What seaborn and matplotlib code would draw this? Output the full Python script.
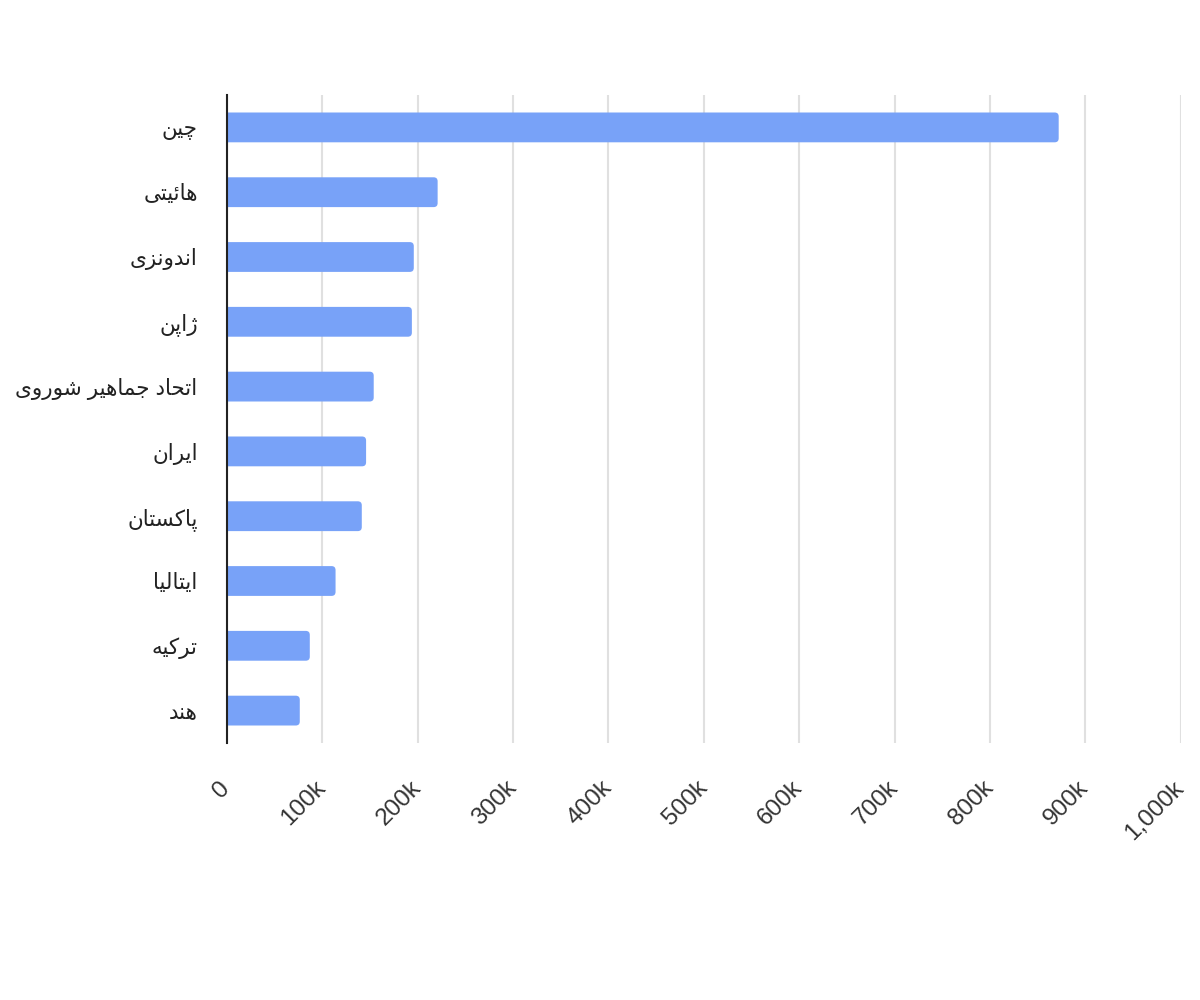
import seaborn as sns
import matplotlib.pyplot as plt
import matplotlib.ticker as mticker
from matplotlib.patches import FancyBboxPatch
import pandas as pd

# country names (Persian) and values, top to bottom
countries = ["چین", "هائیتی", "اندونزی", "ژاپن", "اتحاد جماهیر شوروی",
             "ایران", "پاکستان", "ایتالیا", "ترکیه", "هند"]
values = [872000, 221000, 196000, 194000, 154000,
          146000, 141500, 114000, 87000, 76500]
x_ticks = [0, 100000, 200000, 300000, 400000, 500000,
           600000, 700000, 800000, 900000, 1000000]

# matplotlib has no Arabic shaping, so map letters to presentation forms
# (isolated, final, initial, medial); two-form letters only join to the right
FORMS = {
    "ا": ("\uFE8D", "\uFE8E"),
    "د": ("\uFEA9", "\uFEAA"),
    "ر": ("\uFEAD", "\uFEAE"),
    "ز": ("\uFEAF", "\uFEB0"),
    "ژ": ("\uFB8A", "\uFB8B"),
    "و": ("\uFEED", "\uFEEE"),
    "پ": ("\uFB56", "\uFB57", "\uFB58", "\uFB59"),
    "ت": ("\uFE95", "\uFE96", "\uFE97", "\uFE98"),
    "ج": ("\uFE9D", "\uFE9E", "\uFE9F", "\uFEA0"),
    "چ": ("\uFB7A", "\uFB7B", "\uFB7C", "\uFB7D"),
    "ح": ("\uFEA1", "\uFEA2", "\uFEA3", "\uFEA4"),
    "س": ("\uFEB1", "\uFEB2", "\uFEB3", "\uFEB4"),
    "ش": ("\uFEB5", "\uFEB6", "\uFEB7", "\uFEB8"),
    "ک": ("\uFB8E", "\uFB8F", "\uFB90", "\uFB91"),
    "ل": ("\uFEDD", "\uFEDE", "\uFEDF", "\uFEE0"),
    "م": ("\uFEE1", "\uFEE2", "\uFEE3", "\uFEE4"),
    "ن": ("\uFEE5", "\uFEE6", "\uFEE7", "\uFEE8"),
    "ه": ("\uFEE9", "\uFEEA", "\uFEEB", "\uFEEC"),
    "ی": ("\uFBFC", "\uFBFD", "\uFBFE", "\uFBFF"),
    "ئ": ("\uFE89", "\uFE8A", "\uFE8B", "\uFE8C"),
}


def shape(text):
    out = []
    for i, ch in enumerate(text):
        if ch not in FORMS:
            out.append(ch)
            continue
        prev = text[i - 1] if i > 0 else ""
        nxt = text[i + 1] if i + 1 < len(text) else ""
        joins_prev = prev in FORMS and len(FORMS[prev]) == 4
        joins_next = len(FORMS[ch]) == 4 and nxt in FORMS
        f = FORMS[ch]
        if joins_prev and joins_next:
            out.append(f[3])
        elif joins_prev:
            out.append(f[1])
        elif joins_next:
            out.append(f[2])
        else:
            out.append(f[0])
    return "".join(out)[::-1]


df = pd.DataFrame({"country": [shape(c) for c in countries], "value": values})

sns.set_theme(style="white")
plt.rcParams["font.family"] = ["Liberation Sans", "DejaVu Sans"]

fig = plt.figure(figsize=(12, 10), dpi=100)
ax = fig.add_axes([0.189, 0.257, 0.795, 0.648])

sns.barplot(data=df, x="value", y="country", orient="h",
            color="#78A2F8", saturation=1, width=0.46, ax=ax)

ax.set_xlim(0, 1000000)
ax.set_ylim(9.5, -0.5)

# swap the square bars for ones with rounded ends (left end hidden by the axis)
r = 4200
aspect = (10 / 648) / (1000000 / 954)
for p in list(ax.patches):
    x0, y0, w, h = p.get_x(), p.get_y(), p.get_width(), p.get_height()
    fc = p.get_facecolor()
    p.remove()
    ax.add_patch(FancyBboxPatch((x0 - r, y0), w + r, h,
                                boxstyle=f"round,pad=0,rounding_size={r}",
                                mutation_aspect=aspect, facecolor=fc,
                                edgecolor="none", zorder=2))

ax.set_xticks(x_ticks)
ax.xaxis.set_major_formatter(mticker.FuncFormatter(
    lambda v, _: "0" if v == 0 else f"{v / 1000:,.0f}k"))
ax.grid(axis="x", color="#e0e0e0", linewidth=1.5)
ax.set_axisbelow(True)
for side in ["top", "right", "bottom"]:
    ax.spines[side].set_visible(False)
ax.spines["left"].set_color("#222222")
ax.spines["left"].set_linewidth(1.5)
ax.spines["left"].set_zorder(5)

ax.tick_params(axis="x", length=0, pad=30, labelsize=17.5, labelcolor="#333333")
ax.tick_params(axis="y", length=0, pad=21, labelsize=15.5, labelcolor="#222222")
for lab in ax.get_xticklabels():
    lab.set_rotation(45)
    lab.set_ha("right")
    lab.set_va("center")
    lab.set_rotation_mode("anchor")

ax.set_xlabel("")
ax.set_ylabel("")

fig.savefig("out.png", dpi=100, facecolor="white")
